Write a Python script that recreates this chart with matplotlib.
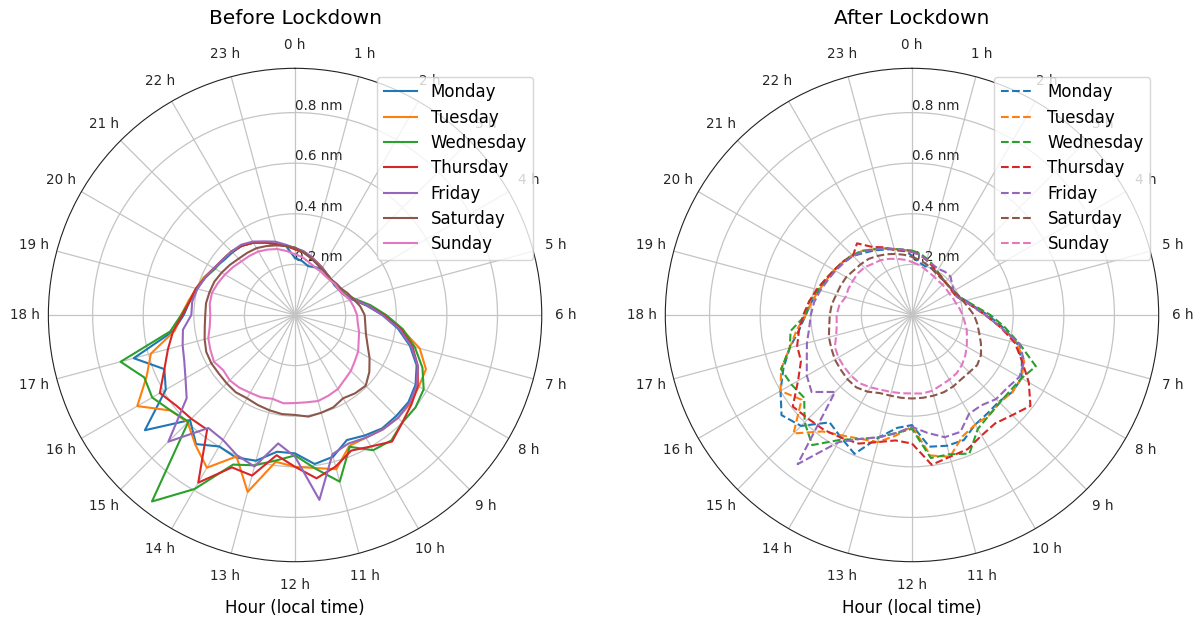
import numpy as np
import matplotlib
matplotlib.use("Agg")
import matplotlib.pyplot as plt

# half-hourly mean noise amplitude (nm), 0 h .. 23.5 h
hours = np.arange(0, 24, 0.5)
days = ['Monday', 'Tuesday', 'Wednesday', 'Thursday', 'Friday', 'Saturday', 'Sunday']

before_mon = [.225, .215, .20, .205, .21, .205, .20, .195, .20, .21, .235, .285,
              .345, .41, .47, .52, .55, .565, .565, .565, .55, .535, .58, .594,
              .547, .545, .596, .61, .60, .643, .587, .748, .59, .559, .66, .485,
              .44, .42, .40, .385, .37, .355, .35, .345, .33, .31, .29, .275]
before_tue = [.26, .25, .235, .225, .215, .205, .20, .20, .20, .21, .24, .29,
              .355, .425, .51, .56, .565, .575, .575, .57, .56, .56, .631, .61,
              .60, .585, .724, .605, .697, .647, .60, .62, .72, .635, .59, .48,
              .45, .425, .405, .39, .37, .36, .355, .345, .33, .31, .29, .275]
before_wed = [.265, .25, .235, .225, .215, .205, .20, .20, .205, .215, .245, .30,
              .36, .43, .49, .545, .587, .60, .60, .625, .617, .564, .682, .612,
              .555, .58, .615, .64, .794, .929, .596, .62, .652, .645, .714, .498,
              .45, .42, .405, .385, .365, .36, .355, .345, .33, .31, .29, .275]
before_thu = [.26, .25, .24, .225, .215, .205, .20, .20, .20, .21, .24, .29,
              .35, .42, .48, .525, .56, .58, .60, .63, .60, .58, .62, .651,
              .60, .559, .657, .652, .765, .571, .58, .59, .617, .559, .52, .486,
              .445, .42, .405, .385, .37, .36, .355, .345, .33, .31, .29, .275]
before_fri = [.265, .255, .24, .225, .215, .205, .20, .20, .20, .21, .24, .29,
              .345, .415, .475, .525, .555, .57, .575, .57, .56, .55, .57, .737,
              .56, .512, .62, .60, .57, .563, .708, .54, .50, .474, .46, .447,
              .41, .41, .40, .385, .37, .36, .355, .35, .335, .315, .30, .28]
before_sat = [.265, .25, .235, .22, .21, .205, .20, .205, .21, .225, .24, .26,
              .275, .28, .29, .31, .34, .37, .395, .39, .38, .395, .40, .405,
              .395, .395, .39, .385, .38, .385, .382, .38, .382, .38, .37, .36,
              .355, .355, .35, .345, .335, .325, .315, .31, .305, .295, .285, .275]
before_sun = [.24, .23, .215, .205, .20, .195, .195, .20, .20, .21, .225, .235,
              .245, .25, .262, .272, .288, .298, .312, .322, .338, .345, .352, .348,
              .348, .352, .343, .352, .355, .362, .365, .358, .37, .362, .355, .34,
              .335, .34, .34, .33, .32, .31, .30, .295, .29, .28, .27, .255]

after_mon = [.235, .21, .20, .20, .195, .19, .185, .185, .19, .195, .22, .25,
             .30, .36, .43, .47, .50, .50, .485, .49, .50, .535, .535, .525,
             .435, .45, .50, .594, .56, .535, .62, .65, .60, .55, .50, .45,
             .42, .40, .38, .365, .35, .34, .33, .31, .295, .28, .27, .26]
after_tue = [.25, .24, .225, .21, .195, .19, .185, .185, .185, .19, .215, .245,
             .29, .35, .43, .48, .50, .50, .49, .50, .50, .52, .58, .56,
             .44, .48, .52, .53, .55, .58, .662, .55, .60, .56, .50, .46,
             .42, .40, .38, .365, .355, .345, .335, .32, .30, .285, .27, .26]
after_wed = [.255, .245, .23, .215, .20, .19, .185, .185, .19, .195, .22, .255,
             .31, .37, .44, .53, .50, .49, .49, .50, .52, .593, .57, .57,
             .45, .47, .50, .53, .57, .648, .60, .537, .55, .56, .50, .484,
             .42, .41, .385, .37, .355, .345, .335, .32, .30, .285, .27, .26]
after_thu = [.25, .24, .225, .21, .195, .19, .185, .185, .185, .19, .215, .245,
             .29, .35, .42, .47, .533, .59, .56, .54, .55, .574, .58, .597,
             .508, .50, .52, .55, .56, .572, .58, .594, .52, .475, .47, .45,
             .43, .41, .39, .37, .355, .345, .33, .357, .31, .29, .265, .255]
after_fri = [.25, .24, .225, .215, .21, .215, .215, .20, .19, .19, .215, .245,
             .29, .35, .44, .48, .49, .474, .47, .45, .451, .50, .50, .47,
             .442, .47, .50, .53, .58, .743, .43, .50, .48, .45, .43, .41,
             .40, .39, .375, .36, .35, .34, .33, .315, .30, .285, .27, .26]
after_sat = [.23, .22, .21, .20, .19, .185, .185, .185, .19, .20, .21, .225,
             .245, .26, .275, .295, .315, .325, .32, .32, .326, .33, .33, .33,
             .33, .33, .33, .334, .35, .361, .36, .355, .352, .345, .34, .33,
             .325, .32, .31, .305, .30, .29, .285, .28, .27, .26, .25, .24]
after_sun = [.21, .20, .19, .18, .175, .17, .17, .17, .17, .175, .18, .19,
             .20, .21, .224, .235, .25, .265, .279, .29, .295, .30, .31, .313,
             .31, .312, .315, .32, .33, .34, .34, .338, .336, .33, .31, .30,
             .298, .29, .272, .272, .27, .27, .266, .255, .25, .24, .23, .22]

before = [before_mon, before_tue, before_wed, before_thu, before_fri, before_sat, before_sun]
after = [after_mon, after_tue, after_wed, after_thu, after_fri, after_sat, after_sun]

hour_labels = [f'{h} h' for h in range(24)]
r_ticks = [0.2, 0.4, 0.6, 0.8]
r_labels = [f'{r:.1f} nm' for r in r_ticks]


def clock_plot(ax, series, ls, title):
    theta = np.append(hours, 24) / 24 * 2 * np.pi
    for i, (day, vals) in enumerate(zip(days, series)):
        r = np.append(vals, vals[0])  # close the day
        ax.plot(theta, r, ls, color=f'C{i}', lw=1.5, label=day)
    ax.set_theta_zero_location('N')
    ax.set_theta_direction(-1)
    ax.set_xticks(np.arange(24) / 24 * 2 * np.pi)
    ax.set_xticklabels(hour_labels, fontsize=9.75, color='#262626')
    ax.tick_params(axis='x', pad=6.5)
    ax.set_ylim(0, 0.975)
    ax.set_yticks(r_ticks)
    ax.set_yticklabels(r_labels, fontsize=9.75, color='#262626')
    ax.set_rlabel_position(0)
    ax.grid(color='#c4c4c4', lw=0.9)
    ax.spines['polar'].set_color('#222222')
    ax.set_title(title, fontsize=14.5, pad=10)
    ax.set_xlabel('Hour (local time)', fontsize=12, labelpad=5)
    ax.legend(loc='upper right', fontsize=12, labelspacing=0.44)


fig = plt.figure(figsize=(11.97, 6.21), dpi=100)
ax1 = fig.add_axes([0.0404, 0.0955, 0.4122, 0.7945], projection='polar')
ax2 = fig.add_axes([0.5558, 0.0955, 0.4122, 0.7945], projection='polar')
clock_plot(ax1, before, '-', 'Before Lockdown')
clock_plot(ax2, after, '--', 'After Lockdown')

fig.savefig('out.png', dpi=100)
